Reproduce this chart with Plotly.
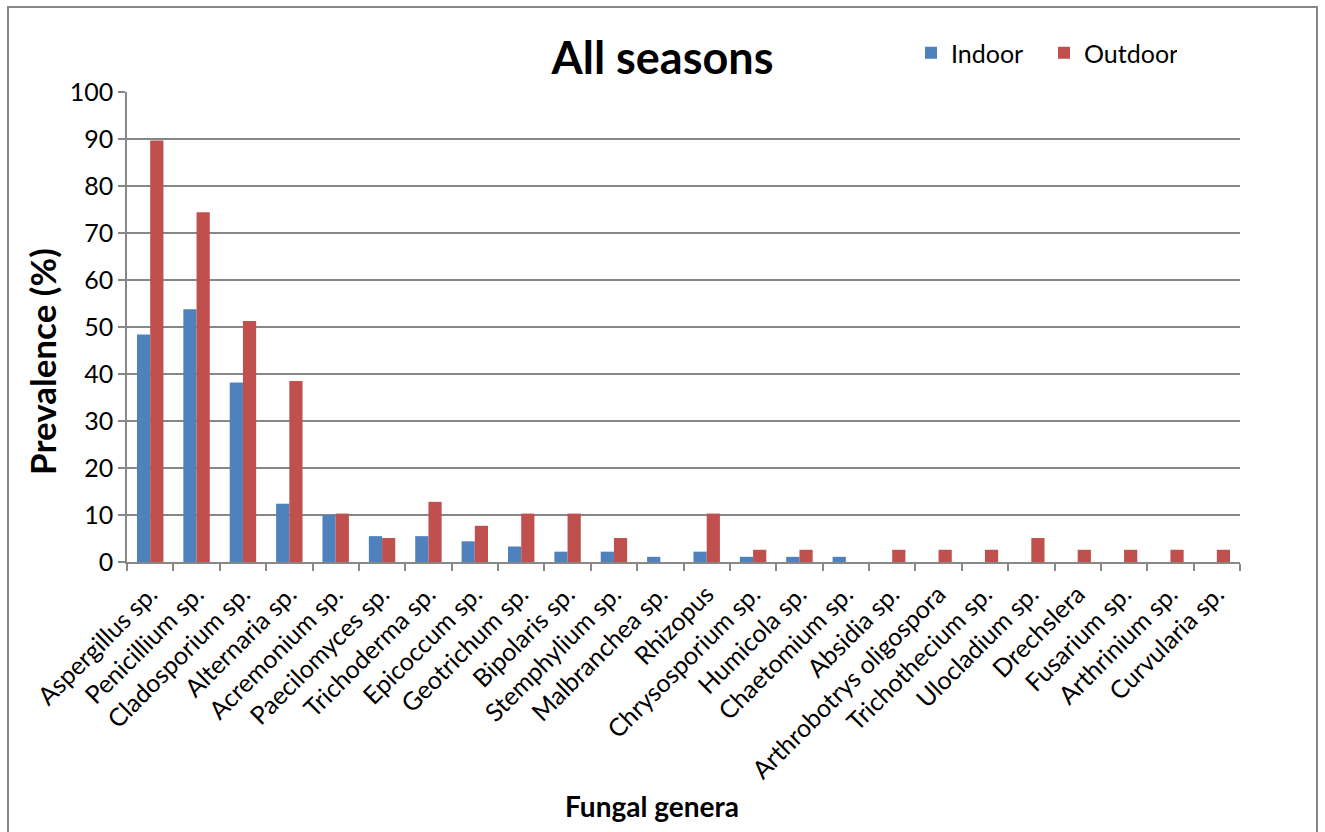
import plotly.graph_objects as go

genera = ["Aspergillus sp.", "Penicillium sp.", "Cladosporium sp.", "Alternaria sp.",
          "Acremonium sp.", "Paecilomyces sp.", "Trichoderma sp.", "Epicoccum sp.",
          "Geotrichum sp.", "Bipolaris sp.", "Stemphylium sp.", "Malbranchea sp.",
          "Rhizopus", "Chrysosporium sp.", "Humicola sp.", "Chaetomium sp.",
          "Absidia sp.", "Arthrobotrys oligospora", "Trichothecium sp.", "Ulocladium sp.",
          "Drechslera", "Fusarium sp.", "Arthrinium sp.", "Curvularia sp."]

indoor = [48.4, 53.8, 38.2, 12.4, 10.0, 5.5, 5.5, 4.4, 3.3, 2.2, 2.2, 1.1,
          2.2, 1.1, 1.1, 1.1, 0, 0, 0, 0, 0, 0, 0, 0]
outdoor = [89.7, 74.4, 51.3, 38.5, 10.3, 5.1, 12.8, 7.7, 10.3, 10.3, 5.1, 0,
           10.3, 2.6, 2.6, 0, 2.6, 2.6, 2.6, 5.1, 2.6, 2.6, 2.6, 2.6]

y_ticks = [0, 10, 20, 30, 40, 50, 60, 70, 80, 90, 100]

FONT = "Lato"
GRID = "#878787"

fig = go.Figure()
fig.add_trace(go.Bar(x=genera, y=indoor, name="Indoor",
                     marker=dict(color="#4F81BD", line=dict(width=0))))
fig.add_trace(go.Bar(x=genera, y=outdoor, name="Outdoor",
                     marker=dict(color="#C0504D", line=dict(width=0))))

W, H = 1325, 832
L, R, T, B = 127, 85, 92, 270
pw, ph = W - L - R, H - T - B

def px_x(x):
    return (x - L) / pw

def px_y(y):
    return (H - B - y) / ph

fig.update_layout(
    width=W, height=H,
    margin=dict(l=L, r=R, t=T, b=B, autoexpand=False),
    paper_bgcolor="white", plot_bgcolor="white",
    barmode="group", bargap=0.43, bargroupgap=0.0,
    font=dict(family=FONT, size=25, color="black"),
    title=dict(text="<b>All seasons</b>", x=0.5, xanchor="center",
               xref="container", yref="container", y=1 - 58 / H, yanchor="middle",
               font=dict(family=FONT, size=45, color="black")),
    legend=dict(orientation="h", x=px_x(911), y=px_y(53), xanchor="left", yanchor="middle",
                font=dict(family=FONT, size=25, color="black"),
                bgcolor="rgba(0,0,0,0)", entrywidth=88, entrywidthmode="pixels",
                itemclick=False),
    showlegend=True,
    xaxis=dict(type="category", tickangle=-45, ticks="outside", tickson="boundaries",
               ticklen=7, tickcolor=GRID, tickwidth=1.5, ticklabelstandoff=6,
               showline=True, linecolor=GRID, linewidth=1.5,
               showgrid=False, tickfont=dict(family=FONT, size=25, color="black"),
               automargin=False),
    yaxis=dict(range=[0, 100], tickvals=y_ticks, ticks="outside", ticklen=7,
               tickcolor=GRID, tickwidth=1.5, showline=True, linecolor=GRID, linewidth=1.5,
               showgrid=True, gridcolor=GRID, gridwidth=1.5, zeroline=False,
               tickfont=dict(family=FONT, size=25, color="black"), automargin=False),
    annotations=[
        dict(text="<b>Prevalence (%)</b>", xref="paper", yref="paper",
             x=px_x(42), y=px_y(362), textangle=-90, showarrow=False,
             xanchor="center", yanchor="middle",
             font=dict(family=FONT, size=35, color="black")),
        dict(text="<b>Fungal genera</b>", xref="paper", yref="paper",
             x=px_x(652), y=px_y(806), showarrow=False,
             xanchor="center", yanchor="middle",
             font=dict(family=FONT, size=28, color="black")),
    ],
    shapes=[
        dict(type="rect", xref="paper", yref="paper",
             x0=px_x(8), x1=px_x(1317), y0=px_y(845), y1=px_y(7),
             line=dict(color=GRID, width=2), fillcolor="rgba(0,0,0,0)", layer="below"),
    ],
)

fig.write_html("out.html")
